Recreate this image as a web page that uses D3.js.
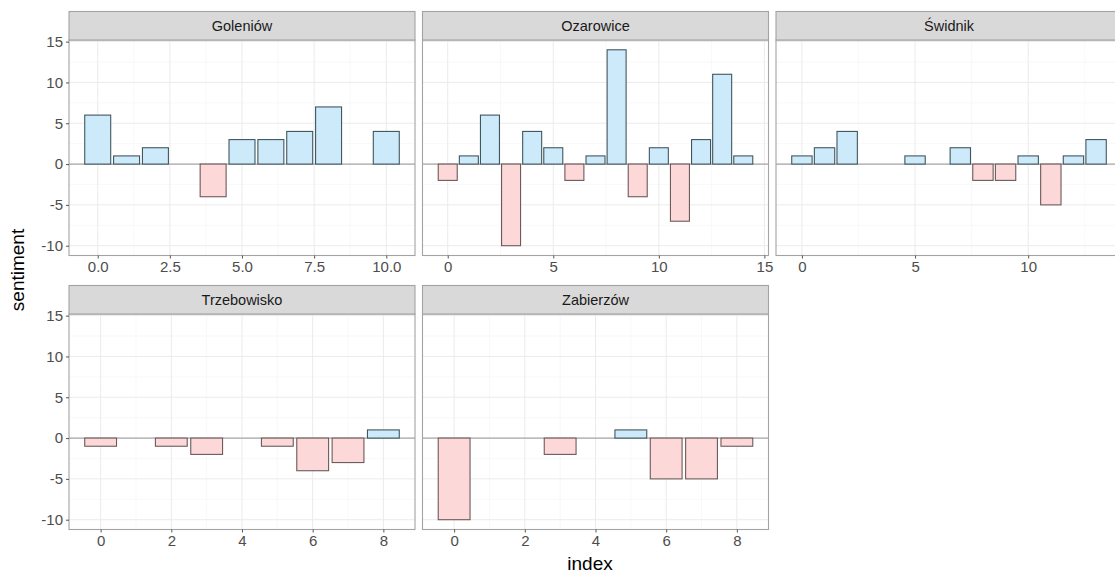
<!DOCTYPE html>
<html>
<head>
<meta charset="utf-8">
<script src="https://cdn.jsdelivr.net/npm/d3@7"></script>
<style>
  body { margin: 0; background: #fff; }
  text { font-family: "Liberation Sans", Arial, sans-serif; }
</style>
</head>
<body>
<div id="chart"></div>
<script>
// data
const towns = ["Goleniów", "Ozarowice", "Świdnik", "Trzebowisko", "Zabierzów"]

const goleniowIndex = [0, 1, 2, 4, 5, 6, 7, 8, 10]
const goleniowSent  = [6, 1, 2, -4, 3, 3, 4, 7, 4]

const ozarowiceIndex = [0, 1, 2, 3, 4, 5, 6, 7, 8, 9, 10, 11, 12, 13, 14]
const ozarowiceSent  = [-2, 1, 6, -10, 4, 2, -2, 1, 14, -4, 2, -7, 3, 11, 1]

const swidnikIndex = [0, 1, 2, 5, 7, 8, 9, 10, 11, 12, 13]
const swidnikSent  = [1, 2, 4, 1, 2, -2, -2, 1, -5, 1, 3]

const trzebowiskoIndex = [0, 2, 3, 5, 6, 7, 8]
const trzebowiskoSent  = [-1, -1, -2, -1, -4, -3, 1]

const zabierzowIndex = [0, 3, 5, 6, 7, 8]
const zabierzowSent  = [-10, -2, 1, -5, -5, -1]

const xTicks = [
    [0, 2.5, 5, 7.5, 10],
    [0, 5, 10, 15],
    [0, 5, 10],
    [0, 2, 4, 6, 8],
    [0, 2, 4, 6, 8]
]
const xFormats = [".1f", "d", "d", "d", "d"]
const yTicks = [-10, -5, 0, 5, 10, 15]
const yMinor = [-7.5, -2.5, 2.5, 7.5, 12.5]

const panels = [
    [goleniowIndex, goleniowSent],
    [ozarowiceIndex, ozarowiceSent],
    [swidnikIndex, swidnikSent],
    [trzebowiskoIndex, trzebowiskoSent],
    [zabierzowIndex, zabierzowSent]
].map((p, i) => ({
    town: towns[i],
    data: d3.transpose(p).map(d => ({x: d[0], y: d[1]})),
    ticks: xTicks[i],
    fmt: xFormats[i]
}))

// layout
canvas = ({width: 1115, height: 575})
panelW = 346
panelH = 215.5
stripH = 28.5
colLeft = [69, 422.5, 776]
rowTop = [40, 314]     // top of plotting area (below the strip)

barW = 0.9
pos_fill = "#cdeafb"
neg_fill = "#fdd8d8"
pos_stroke = "#41575f"
neg_stroke = "#6d5a5a"
border = "#a3a3a3"

// plain hyphen for negatives, like R prints them
hyphen = f => (d => f(d).replace("\u2212", "-"))

var svg = d3.select("#chart").append("svg")
    .attr("width", canvas.width)
    .attr("height", canvas.height)
    .attr("viewBox", [0, 0, canvas.width, canvas.height])

// shared y scale
y = d3.scaleLinear()
    .domain([-11.2, 15.2])
    .range([panelH, 0])

panels.forEach((p, i) => {
    const col = i % 3, row = Math.floor(i / 3)
    const g = svg.append("g")
        .attr("transform", `translate(${colLeft[col]},${rowTop[row]})`)

    // free x scale: bar extent plus 5% expansion
    const ext = d3.extent(p.data, d => d.x)
    const lo = ext[0] - barW / 2, hi = ext[1] + barW / 2
    const pad = (hi - lo) * 0.05
    const x = d3.scaleLinear()
        .domain([lo - pad, hi + pad])
        .range([0, panelW])

    const step = p.ticks[1] - p.ticks[0]
    const xMinor = p.ticks.map(t => t - step / 2).concat([p.ticks[p.ticks.length - 1] + step / 2])
        .filter(t => t > x.domain()[0] && t < x.domain()[1])

    g.append("rect")
        .attr("width", panelW).attr("height", panelH)
        .attr("fill", "#fff")

    // grid
    g.append("g").selectAll("line").data(yMinor).join("line")
        .attr("x1", 0).attr("x2", panelW)
        .attr("y1", d => y(d)).attr("y2", d => y(d))
        .attr("stroke", "#f4f4f4").attr("stroke-width", 0.6)
    g.append("g").selectAll("line").data(xMinor).join("line")
        .attr("y1", 0).attr("y2", panelH)
        .attr("x1", d => x(d)).attr("x2", d => x(d))
        .attr("stroke", "#f4f4f4").attr("stroke-width", 0.6)
    g.append("g").selectAll("line").data(yTicks).join("line")
        .attr("x1", 0).attr("x2", panelW)
        .attr("y1", d => y(d)).attr("y2", d => y(d))
        .attr("stroke", "#ebebeb").attr("stroke-width", 1)
    g.append("g").selectAll("line").data(p.ticks.filter(t => t <= x.domain()[1])).join("line")
        .attr("y1", 0).attr("y2", panelH)
        .attr("x1", d => x(d)).attr("x2", d => x(d))
        .attr("stroke", "#ebebeb").attr("stroke-width", 1)

    // zero line
    g.append("line")
        .attr("x1", 0).attr("x2", panelW)
        .attr("y1", y(0)).attr("y2", y(0))
        .attr("stroke", "#a8a8a8").attr("stroke-width", 1.2)

    // bars
    g.append("g").selectAll("rect").data(p.data).join("rect")
        .attr("x", d => x(d.x - barW / 2))
        .attr("width", x(barW) - x(0))
        .attr("y", d => y(Math.max(0, d.y)))
        .attr("height", d => Math.abs(y(d.y) - y(0)))
        .attr("fill", d => d.y > 0 ? pos_fill : neg_fill)
        .attr("stroke", d => d.y > 0 ? pos_stroke : neg_stroke)
        .attr("stroke-width", 1.1)

    // border
    g.append("rect")
        .attr("width", panelW).attr("height", panelH)
        .attr("fill", "none")
        .attr("stroke", border).attr("stroke-width", 1.1)

    // strip
    g.append("rect")
        .attr("y", -stripH)
        .attr("width", panelW).attr("height", stripH)
        .attr("fill", "#d9d9d9")
        .attr("stroke", border).attr("stroke-width", 1.1)
    g.append("text")
        .attr("x", panelW / 2).attr("y", -stripH / 2)
        .attr("dy", "0.36em")
        .attr("text-anchor", "middle")
        .attr("font-size", 14.5)
        .attr("fill", "#1a1a1a")
        .text(p.town)

    // x axis
    const xAxis = g.append("g")
        .attr("transform", `translate(0,${panelH})`)
        .call(d3.axisBottom(x).tickValues(p.ticks).tickFormat(hyphen(d3.format(p.fmt)))
            .tickSizeInner(3).tickSizeOuter(0).tickPadding(3))
    xAxis.select(".domain").remove()
    xAxis.selectAll("line").attr("stroke", "#555")
    xAxis.selectAll("text").attr("font-size", 15).attr("fill", "#4d4d4d")
        .attr("font-family", "'Liberation Sans', Arial, sans-serif")

    // y axis only on first column
    if (col === 0) {
        const yAxis = g.append("g")
            .call(d3.axisLeft(y).tickValues(yTicks).tickFormat(hyphen(d3.format("d")))
                .tickSizeInner(3).tickSizeOuter(0).tickPadding(3))
        yAxis.select(".domain").remove()
        yAxis.selectAll("line").attr("stroke", "#555")
        yAxis.selectAll("text").attr("font-size", 15).attr("fill", "#4d4d4d")
            .attr("font-family", "'Liberation Sans', Arial, sans-serif")
    }
})

// axis titles
svg.append("text")
    .attr("x", 590).attr("y", 570)
    .attr("text-anchor", "middle")
    .attr("font-size", 19)
    .attr("fill", "#000")
    .text("index")

svg.append("text")
    .attr("transform", "translate(24,270) rotate(-90)")
    .attr("text-anchor", "middle")
    .attr("font-size", 19)
    .attr("fill", "#000")
    .text("sentiment")
</script>
</body>
</html>
